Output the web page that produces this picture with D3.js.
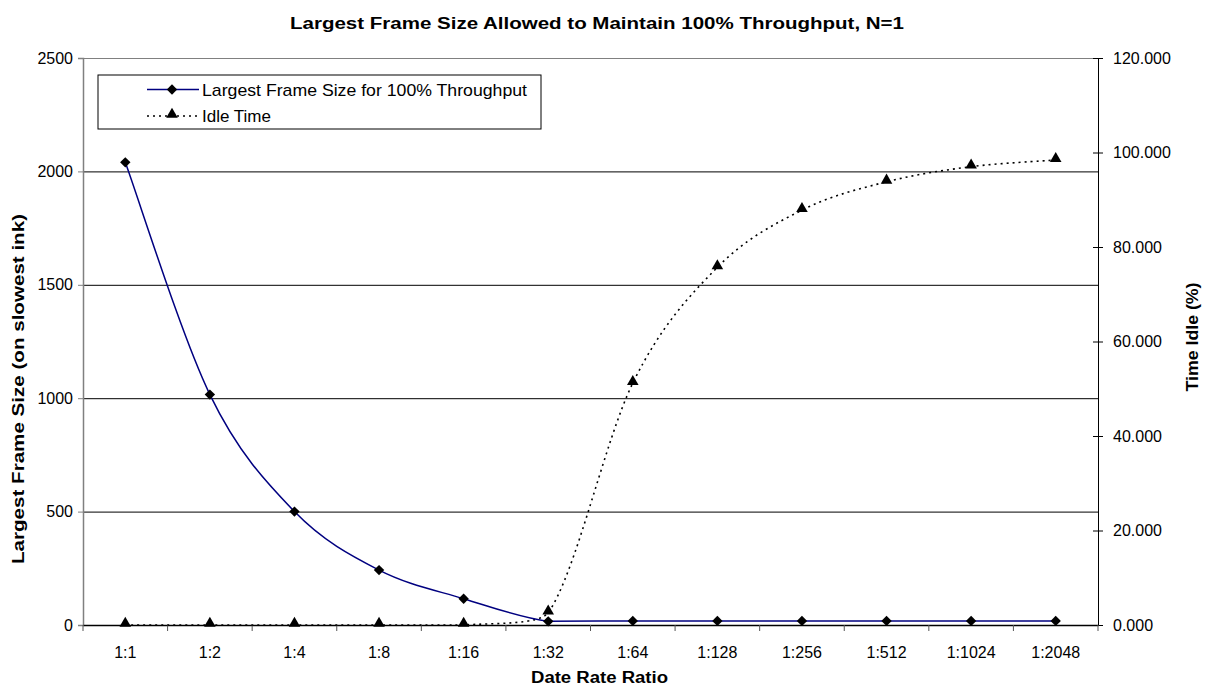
<!DOCTYPE html>
<html><head><meta charset="utf-8">
<script src="https://cdn.jsdelivr.net/npm/d3@7"></script>
<style>body{margin:0;background:#fff}svg{display:block}text{font-family:Arial,"Liberation Sans",sans-serif}</style>
</head><body><svg id="c" width="1209" height="688"></svg>
<script>
const categories = ["1:1","1:2","1:4","1:8","1:16","1:32","1:64","1:128","1:256","1:512","1:1024","1:2048"];
const frameSize = [2040,1016,500,242,116,16,18,18,18,18,18,18];
const idleTime = [0,0,0,0,0,2.6,51.2,75.7,87.8,93.8,97.0,98.4];
const leftTicks = [0,500,1000,1500,2000,2500];
const rightTicks = [0,20,40,60,80,100,120];
const seriesNames = ["Largest Frame Size for 100% Throughput","Idle Time"];

const svg = d3.select("#c");
const L=83, R=1098, T=58, B=625;
const x = d3.scaleBand().domain(categories).range([L,R]);
const yL = d3.scaleLinear().domain([0,2500]).range([B,T]);
const yR = d3.scaleLinear().domain([0,120]).range([B,T]);
const cx = d => x(d)+x.bandwidth()/2;
const FS = 16;

// Excel-style smoothed bezier path through scaled points
function smoothPath(pts){
  const p = d3.path();
  const dist=(a,b)=>Math.hypot(a[0]-b[0],a[1]-b[1]);
  p.moveTo(pts[0][0],pts[0][1]);
  for(let i=0;i<pts.length-1;i++){
    const P1=pts[i], P2=pts[i+1], P0=pts[i-1]||P1, P3=pts[i+2]||P2;
    const d02=dist(P0,P2), d12=dist(P1,P2), d13=dist(P1,P3);
    const f1 = (d02/6 < d12/2 || d02===0) ? 1/6 : d12/(2*d02);
    const f2 = (d13/6 < d12/2 || d13===0) ? 1/6 : d12/(2*d13);
    let o1=[(P2[0]-P0[0])*f1,(P2[1]-P0[1])*f1];
    let o2=[-(P3[0]-P1[0])*f2,-(P3[1]-P1[1])*f2];
    const lo=Math.min(P1[1],P2[1]), hi=Math.max(P1[1],P2[1]);
    const clampOff=(P,o)=>{const y=P[1]+o[1]; let s=1;
      if(y>hi && o[1]!==0) s=(hi-P[1])/o[1]; else if(y<lo && o[1]!==0) s=(lo-P[1])/o[1];
      s=Math.max(0,Math.min(1,s)); return [o[0]*s,o[1]*s];};
    o1=clampOff(P1,o1); o2=clampOff(P2,o2);
    p.bezierCurveTo(P1[0]+o1[0],P1[1]+o1[1],P2[0]+o2[0],P2[1]+o2[1],P2[0],P2[1]);
  }
  return p.toString();
}

// gridlines
svg.append("g").selectAll("line").data(leftTicks.slice(1)).join("line")
  .attr("x1",L).attr("x2",R).attr("y1",d=>yL(d)+0.5).attr("y2",d=>yL(d)+0.5)
  .attr("stroke",d=>d===2500?"#808080":"#000").attr("stroke-width",1);

// left axis
const gl = svg.append("g").attr("transform",`translate(${L},0)`)
  .call(d3.axisLeft(yL).tickValues(leftTicks).tickSize(5).tickPadding(5).tickFormat(d3.format("d")));
gl.select(".domain").attr("stroke","#808080").attr("stroke-width",1.5);
gl.selectAll(".tick line").attr("stroke","#808080");
gl.selectAll("text").attr("font-size",FS).attr("fill","#000");

// right axis
const gr = svg.append("g").attr("transform",`translate(${R},0)`)
  .call(d3.axisRight(yR).tickValues(rightTicks).tickSize(5).tickPadding(10).tickFormat(d3.format(".3f")));
gr.select(".domain").attr("stroke","#000");
gr.selectAll(".tick line").attr("x1",-5).attr("stroke","#000");
gr.selectAll("text").attr("font-size",FS).attr("fill","#000");

// bottom axis
const gb = svg.append("g").attr("transform",`translate(0,${B})`)
  .call(d3.axisBottom(x).tickSize(0).tickPadding(22));
gb.select(".domain").attr("stroke","#000").attr("stroke-width",1.5);
gb.selectAll("text").attr("font-size",FS).attr("fill","#000");
const bounds = categories.map(c=>x(c)).concat([R]);
gb.selectAll("line.bt").data(bounds).join("line").attr("class","bt")
  .attr("x1",d=>d).attr("x2",d=>d).attr("y1",0).attr("y2",6).attr("stroke","#555");

// lines
const idlePts = idleTime.map((d,i)=>[cx(categories[i]),yR(d)]);
const framePts = frameSize.map((d,i)=>[cx(categories[i]),yL(d)]);
svg.append("path").attr("d",smoothPath(idlePts)).attr("fill","none").attr("stroke","#000")
  .attr("stroke-width",1.6).attr("stroke-dasharray","2,4");
svg.append("path").attr("d",smoothPath(framePts)).attr("fill","none").attr("stroke","#000080").attr("stroke-width",1.5);

const tri = d3.symbol().type(d3.symbolTriangle).size(58);
const dia = d3.symbol().type(d3.symbolSquare).size(54);
svg.append("g").selectAll("path").data(idleTime).join("path")
  .attr("d",tri).attr("transform",(d,i)=>`translate(${cx(categories[i])},${yR(d)-1.5})`).attr("fill","#000");
svg.append("g").selectAll("path").data(frameSize).join("path")
  .attr("d",dia)
  .attr("transform",(d,i)=>`translate(${cx(categories[i])},${yL(d)}) rotate(45)`).attr("fill","#000");

// legend
const lg = svg.append("g");
lg.append("rect").attr("x",98).attr("y",75).attr("width",443).attr("height",54)
  .attr("fill","#fff").attr("stroke","#000");
lg.append("line").attr("x1",147).attr("x2",199).attr("y1",89.5).attr("y2",89.5).attr("stroke","#000080").attr("stroke-width",1.5);
lg.append("path").attr("d",dia).attr("transform","translate(172,89.5) rotate(45)").attr("fill","#000");
lg.append("line").attr("x1",147).attr("x2",199).attr("y1",116).attr("y2",116).attr("stroke","#000").attr("stroke-width",1.6).attr("stroke-dasharray","2,4");
lg.append("path").attr("d",tri).attr("transform","translate(172,114.5)").attr("fill","#000");
lg.append("text").attr("x",202).attr("y",95.5).attr("font-size",17).attr("textLength",325).attr("lengthAdjust","spacingAndGlyphs").text(seriesNames[0]);
lg.append("text").attr("x",202).attr("y",122).attr("font-size",17).text(seriesNames[1]);

// titles
svg.append("text").attr("x",597).attr("y",29).attr("text-anchor","middle").attr("font-size",16)
  .attr("font-weight","bold").attr("textLength",614).attr("lengthAdjust","spacingAndGlyphs")
  .text("Largest Frame Size Allowed to Maintain 100% Throughput, N=1");
svg.append("text").attr("x",599.5).attr("y",683).attr("text-anchor","middle").attr("font-size",16)
  .attr("font-weight","bold").attr("textLength",137).attr("lengthAdjust","spacingAndGlyphs").text("Date Rate Ratio");
svg.append("text").attr("transform","translate(24,389) rotate(-90)").attr("text-anchor","middle")
  .attr("font-size",16).attr("font-weight","bold").attr("textLength",350).attr("lengthAdjust","spacingAndGlyphs")
  .text("Largest Frame Size (on slowest ink)");
svg.append("text").attr("transform","translate(1198,337) rotate(-90)").attr("text-anchor","middle")
  .attr("font-size",16).attr("font-weight","bold").attr("textLength",109).attr("lengthAdjust","spacingAndGlyphs").text("Time Idle (%)");
</script></body></html>
